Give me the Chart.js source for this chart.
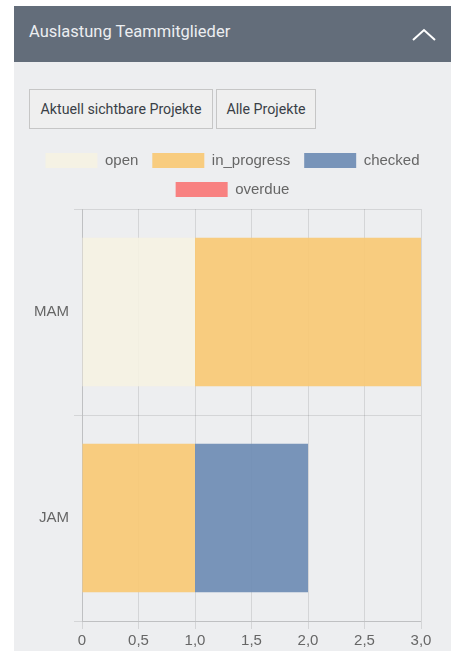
<!DOCTYPE html>
<html lang="de">
  <head>
    <meta charset="UTF-8" />
    <title>Auslastung Teammitglieder</title>
    <script src="https://cdn.jsdelivr.net/npm/chart.js"></script>
    <style>
      body { margin: 0; background: #fff; width: 457px; height: 651px; overflow: hidden; }
      .panel { position: absolute; left: 14px; top: 6px; width: 437px; height: 645px; background: #edeef0; }
      .header { position: absolute; left: 0; top: 0; width: 437px; height: 56px; background: #636d7a; }
      .header h2 {
        position: absolute; left: 15px; top: 16px; margin: 0; font-weight: normal;
        font: 16.5px "Roboto", sans-serif; color: #eceef1;
      }
      .chev { position: absolute; left: 396px; top: 20px; }
      .btn {
        position: absolute; top: 83px; height: 40px; box-sizing: border-box;
        background: #efefef; border: 1px solid #c6c6c6; color: #3a3f47;
        font: 14.2px "Roboto", sans-serif; line-height: 38px; text-align: center; white-space: nowrap;
      }
      #chartWrap { position: absolute; left: 0; top: 133px; width: 437px; height: 514px; }
    </style>
  </head>
  <body>
    <div class="panel">
      <div class="header">
        <h2>Auslastung Teammitglieder</h2>
        <svg class="chev" width="28" height="18"><polyline points="3,14 14,4 25,14" fill="none" stroke="#fff" stroke-width="2" /></svg>
      </div>
      <div class="btn" style="left: 15px; width: 184px">Aktuell sichtbare Projekte</div>
      <div class="btn" style="left: 202px; width: 100px">Alle Projekte</div>
      <div id="chartWrap"><canvas id="workload"></canvas></div>
    </div>

    <script>
      // team members and task counts per status
      const members = ["MAM", "JAM"];
      const openTasks = [1, 0];
      const inProgressTasks = [2, 1];
      const checkedTasks = [0, 1];
      const overdueTasks = [0, 0];
      const xTickLabels = ["0", "0,5", "1,0", "1,5", "2,0", "2,5", "3,0"];

      const ctx = document.getElementById("workload").getContext("2d");
      const labelFont = { family: "'Liberation Sans', Arial", size: 15 };

      // a little more room under the legend
      const legendGap = {
        id: "legendGap",
        beforeInit(chart) {
          const fit = chart.legend.fit;
          chart.legend.fit = function () {
            fit.bind(chart.legend)();
            this.height += 2;
          };
        },
      };

      new Chart(ctx, {
        type: "bar",
        data: {
          labels: members,
          datasets: [
            { label: "open", data: openTasks, backgroundColor: "rgba(246,242,226,0.85)" },
            { label: "in_progress", data: inProgressTasks, backgroundColor: "rgba(248,200,114,0.9)" },
            { label: "checked", data: checkedTasks, backgroundColor: "rgba(110,140,180,0.92)" },
            { label: "overdue", data: overdueTasks, backgroundColor: "rgba(248,116,116,0.9)" },
          ],
        },
        options: {
          indexAxis: "y",
          responsive: true,
          maintainAspectRatio: false,
          animation: false,
          layout: { padding: 0 },
          plugins: {
            legend: {
              labels: {
                boxWidth: 52,
                boxHeight: 15,
                padding: 14,
                color: "#666",
                font: labelFont,
              },
            },
            tooltip: { enabled: false },
          },
          scales: {
            x: {
              stacked: true,
              min: 0,
              max: 3,
              afterFit: (axis) => { axis.paddingRight = 30; },
              ticks: {
                stepSize: 0.5,
                color: "#666",
                font: labelFont,
                callback: (value, index) => xTickLabels[index],
              },
              grid: { color: "rgba(0,0,0,0.1)" },
            },
            y: {
              stacked: true,
              afterFit: (axis) => { axis.width = 68; },
              ticks: { color: "#666", padding: 5, font: labelFont },
              grid: { color: "rgba(0,0,0,0.1)" },
            },
          },
        },
        plugins: [legendGap],
      });
    </script>
  </body>
</html>
